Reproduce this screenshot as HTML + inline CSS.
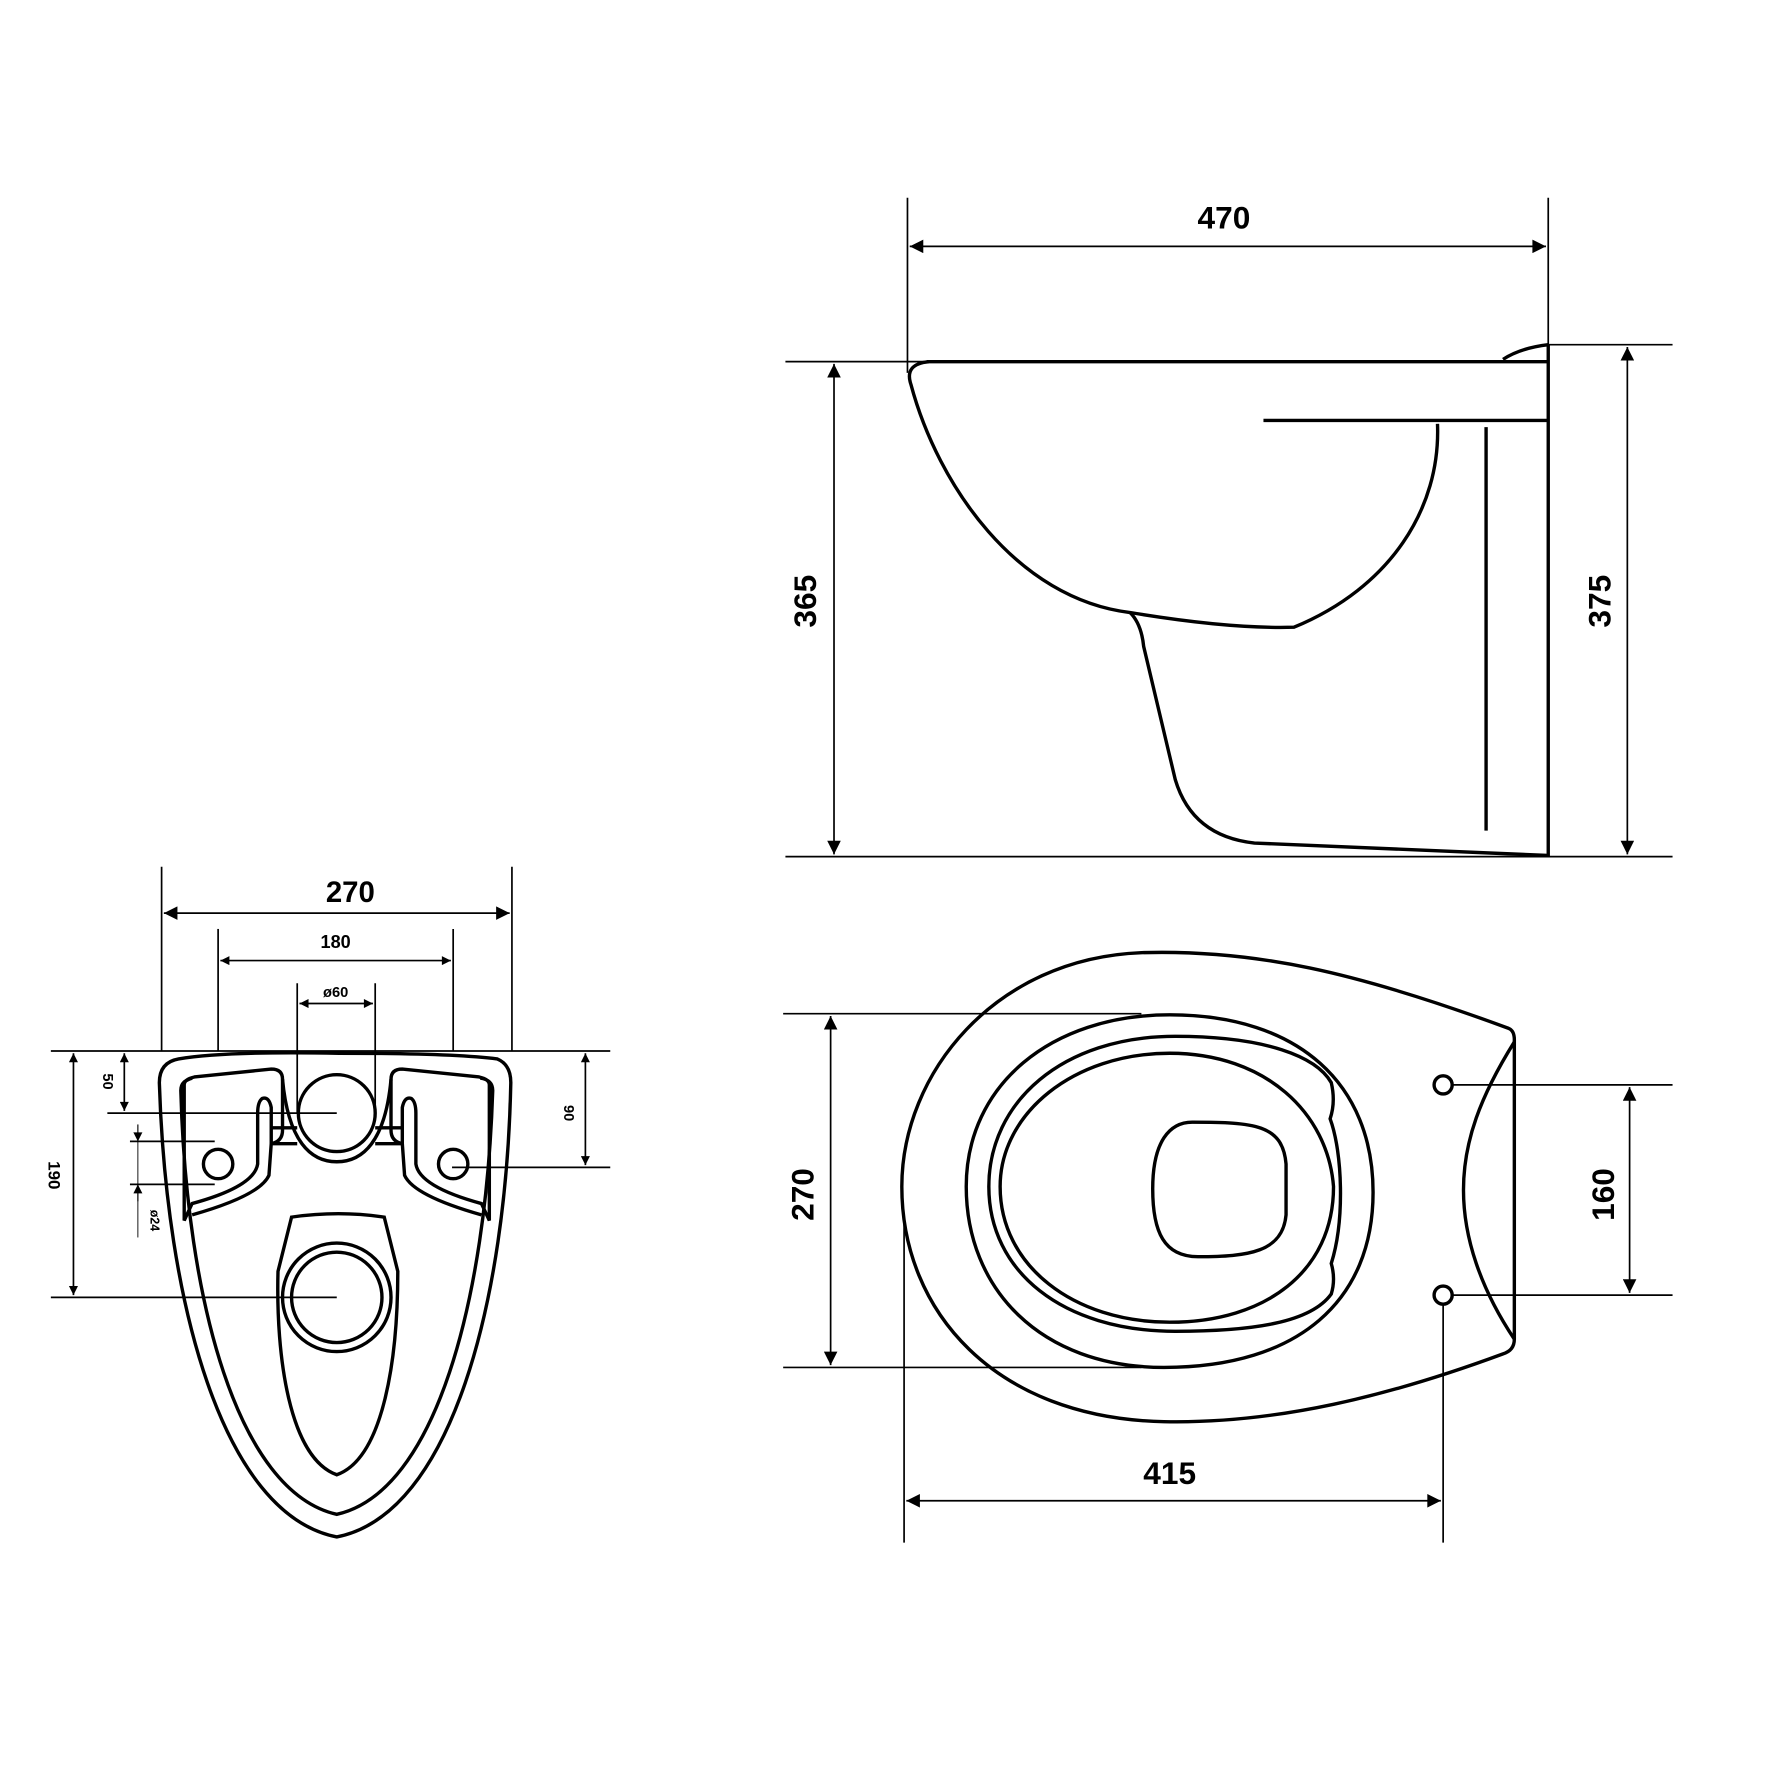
<!DOCTYPE html>
<html><head><meta charset="utf-8"><style>
html,body{margin:0;padding:0;background:#fff;}
svg{display:block;}
text{font-family:"Liberation Sans",sans-serif;font-weight:bold;fill:#000;}
</style></head><body>
<svg width="1772" height="1772" viewBox="0 0 1568 1568" xmlns="http://www.w3.org/2000/svg">
<defs>
<marker id="a" viewBox="0 0 10 10" refX="10" refY="5" markerWidth="30" markerHeight="12" markerUnits="userSpaceOnUse" orient="auto-start-reverse"><path d="M0,0 L10,5 L0,10 Z" fill="#000"/></marker>
<marker id="s" viewBox="0 0 10 10" refX="10" refY="5" markerWidth="16" markerHeight="8" markerUnits="userSpaceOnUse" orient="auto-start-reverse"><path d="M0,0 L10,5 L0,10 Z" fill="#000"/></marker>
</defs>
<g stroke="#000" fill="none" stroke-width="1.5">
<line x1="803" y1="175" x2="803" y2="330"/>
<line x1="1370" y1="175" x2="1370" y2="305"/>
<line x1="805" y1="218" x2="1368" y2="218" marker-start="url(#a)" marker-end="url(#a)"/>
<line x1="695" y1="320" x2="820" y2="320"/>
<line x1="1370" y1="305" x2="1480" y2="305"/>
<line x1="695" y1="758" x2="1480" y2="758"/>
<line x1="738" y1="322" x2="738" y2="756" marker-start="url(#a)" marker-end="url(#a)"/>
<line x1="1440" y1="307" x2="1440" y2="756" marker-start="url(#a)" marker-end="url(#a)"/>
<line x1="693" y1="897" x2="1010" y2="897"/>
<line x1="693" y1="1210" x2="1010" y2="1210"/>
<line x1="735" y1="899" x2="735" y2="1208" marker-start="url(#a)" marker-end="url(#a)"/>
<line x1="1285" y1="960" x2="1480" y2="960"/>
<line x1="1285" y1="1146" x2="1480" y2="1146"/>
<line x1="1442" y1="962" x2="1442" y2="1144" marker-start="url(#a)" marker-end="url(#a)"/>
<line x1="800" y1="1080" x2="800" y2="1365"/>
<line x1="1277" y1="1155" x2="1277" y2="1365"/>
<line x1="802" y1="1328" x2="1275" y2="1328" marker-start="url(#a)" marker-end="url(#a)"/>
<line x1="45" y1="930" x2="540" y2="930"/>
<line x1="143" y1="767" x2="143" y2="930"/>
<line x1="453" y1="767" x2="453" y2="930"/>
<line x1="145" y1="808" x2="451" y2="808" marker-start="url(#a)" marker-end="url(#a)"/>
<line x1="193" y1="822" x2="193" y2="930"/>
<line x1="401" y1="822" x2="401" y2="930"/>
<line x1="195" y1="850" x2="399" y2="850" marker-start="url(#s)" marker-end="url(#s)"/>
<line x1="263" y1="870" x2="263" y2="985"/>
<line x1="332" y1="870" x2="332" y2="985"/>
<line x1="265" y1="888" x2="330" y2="888" marker-start="url(#s)" marker-end="url(#s)"/>
<line x1="45" y1="1148" x2="298" y2="1148"/>
<line x1="65" y1="932" x2="65" y2="1146" marker-start="url(#s)" marker-end="url(#s)"/>
<line x1="110" y1="932" x2="110" y2="983" marker-start="url(#s)" marker-end="url(#s)"/>
<line x1="95" y1="985" x2="298" y2="985"/>
<line x1="115" y1="1010" x2="190" y2="1010"/>
<line x1="115" y1="1048" x2="190" y2="1048"/>
<line x1="122" y1="995" x2="122" y2="1010" marker-end="url(#s)" stroke-width="1"/>
<line x1="122" y1="1063" x2="122" y2="1048" marker-end="url(#s)" stroke-width="1"/>
<line x1="122" y1="1010" x2="122" y2="1095" stroke-width="0.8"/>
<line x1="518" y1="932" x2="518" y2="1031" marker-start="url(#s)" marker-end="url(#s)"/>
<line x1="400" y1="1033" x2="540" y2="1033"/>
</g>
<g stroke="#000" fill="none" stroke-width="3">
<line x1="820" y1="320" x2="1370" y2="320"/>
<path d="M1330,318 Q1345,308 1370,305"/>
<line x1="1370" y1="305" x2="1370" y2="758"/>
<path d="M822,320 Q800,322 806,340 C830,430 900,530 1000,542 C1060,552 1110,556 1145,555 C1230,520 1275,450 1272,375"/>
<line x1="1118" y1="372" x2="1370" y2="372"/>
<line x1="1315" y1="378" x2="1315" y2="735"/>
<path d="M1000,542 Q1010,552 1012,572 L1040,690 Q1055,740 1110,746 L1370,757"/>
<path d="M1335,910 Q1340,912 1340,920 L1340,1185 Q1340,1195 1330,1198 C1230,1235 1130,1260 1030,1258 C880,1255 798,1160 798,1050 C798,950 880,848 1010,843 C1110,840 1200,860 1335,910 Z"/>
<path d="M1340,922 C1310,970 1295,1010 1295,1053 C1295,1095 1310,1140 1340,1185"/>
<circle cx="1277" cy="960" r="8"/>
<circle cx="1277" cy="1146" r="8"/>
<path d="M1035,898 C1150,898 1215,960 1215,1055 C1215,1150 1150,1210 1030,1210 C920,1210 855,1140 855,1050 C855,960 930,898 1035,898 Z"/>
<path d="M1040,917 C1120,917 1165,935 1178,958 Q1182,975 1177,990 C1188,1020 1190,1080 1178,1118 Q1182,1132 1178,1145 C1160,1170 1110,1178 1040,1178 C940,1178 875,1125 875,1050 C875,975 940,917 1040,917 Z"/>
<path d="M1035,932 C1120,932 1175,985 1180,1050 C1180,1125 1120,1170 1035,1170 C950,1170 885,1120 885,1050 C885,985 950,932 1035,932 Z"/>
<path d="M1055,993 C1110,993 1135,995 1138,1030 L1138,1075 C1135,1108 1105,1112 1060,1112 C1030,1112 1020,1090 1020,1052 C1020,1010 1035,993 1055,993 Z"/>
<path d="M158,937 Q200,930 300,932 Q400,932 440,937 Q452,942 452,958 C448,1150 400,1340 298,1360 C196,1340 147,1150 141,958 Q141,940 158,937 Z"/>
<path d="M170,954 C164,956 160,958 160,965 C165,1150 210,1320 298,1340 C386,1320 430,1150 436,965 C436,958 432,955 425,954"/>
<path d="M163,1080 L163,960 Q163,955 172,953 L240,946 Q250,946 250,955 L250,1000 Q250,1010 240,1012 L240,980 Q238,970 232,972 Q228,975 228,985 L228,1030 Q225,1050 170,1065 Z"/>
<path d="M433,1080 L433,960 Q433,955 424,953 L356,946 Q346,946 346,955 L346,1000 Q346,1010 356,1012 L356,980 Q358,970 364,972 Q368,975 368,985 L368,1030 Q371,1050 426,1065 Z"/>
<path d="M170,1075 Q230,1058 238,1040 L240,1012"/>
<path d="M426,1075 Q366,1058 358,1040 L356,1012"/>
<line x1="240" y1="998" x2="263" y2="998"/>
<line x1="240" y1="1012" x2="263" y2="1012"/>
<line x1="332" y1="998" x2="356" y2="998"/>
<line x1="332" y1="1012" x2="356" y2="1012"/>
<path d="M250,955 C255,1010 275,1028 298,1028 C321,1028 341,1010 346,955"/>
<circle cx="298" cy="985" r="34"/>
<circle cx="193" cy="1030" r="13"/>
<circle cx="401" cy="1030" r="13"/>
<path d="M258,1077 Q300,1071 340,1077 L352,1125 C352,1200 340,1290 298,1305 C256,1290 244,1200 246,1125 Z"/>
<circle cx="298" cy="1148" r="48"/>
<circle cx="298" cy="1148" r="40"/>
</g>
<g>
<text x="1083" y="202" font-size="28" text-anchor="middle">470</text>
<text transform="translate(722,532) rotate(-90)" font-size="28" text-anchor="middle">365</text>
<text transform="translate(1425,532) rotate(-90)" font-size="28" text-anchor="middle">375</text>
<text transform="translate(720,1057) rotate(-90)" font-size="28" text-anchor="middle">270</text>
<text transform="translate(1428,1057) rotate(-90)" font-size="28" text-anchor="middle">160</text>
<text x="1035" y="1313" font-size="28" text-anchor="middle">415</text>
<text x="310" y="798" font-size="26" text-anchor="middle">270</text>
<text x="297" y="839" font-size="16" text-anchor="middle" font-weight="normal">180</text>
<text x="297" y="882" font-size="13" text-anchor="middle" font-weight="normal">ø60</text>
<text transform="translate(43,1040) rotate(90)" font-size="15" text-anchor="middle" font-weight="normal">190</text>
<text transform="translate(91,957) rotate(90)" font-size="13" text-anchor="middle" font-weight="normal">50</text>
<text transform="translate(133,1080) rotate(90)" font-size="11" text-anchor="middle" font-weight="normal">ø24</text>
<text transform="translate(499,985) rotate(90)" font-size="13" text-anchor="middle" font-weight="normal">90</text>
</g>
</svg>
</body></html>
